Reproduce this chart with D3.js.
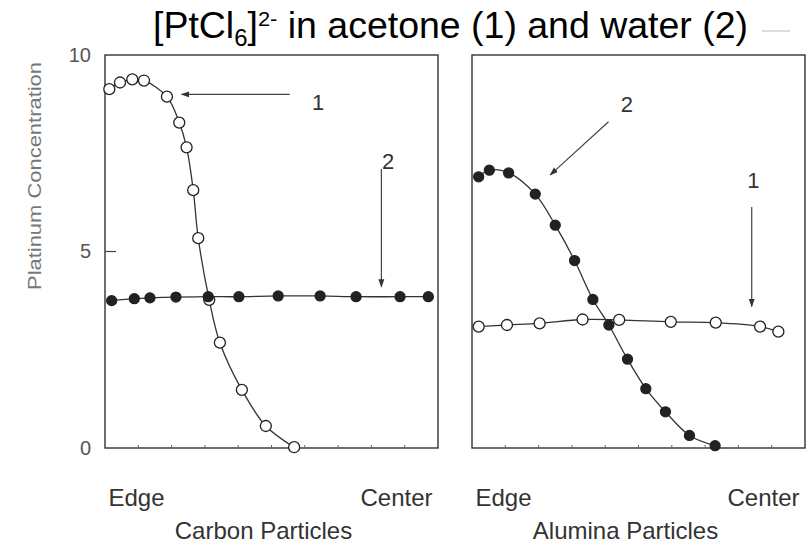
<!DOCTYPE html>
<html lang="en">
<head>
<meta charset="utf-8">
<title>PtCl6 profiles</title>
<script src="https://d3js.org/d3.v7.min.js"></script>
<style>
  body { margin: 0; background: #fff; }
  text { font-family: Arial, "Liberation Sans", sans-serif; }
</style>
</head>
<body>
<script>
// x is position across the particle: 0 = edge, 100 = center
var carbonAcetoneX = [1.3, 4.5, 8.2, 11.7, 18.6, 22.3, 24.5, 26.5, 28.0, 31.3, 34.5, 41.1, 48.3, 56.8];
var carbonAcetoneY = [9.13, 9.30, 9.38, 9.35, 8.94, 8.28, 7.65, 6.56, 5.34, 3.77, 2.68, 1.48, 0.56, 0.02];
var carbonWaterX = [2.0, 8.8, 13.5, 21.3, 31.0, 40.2, 52.0, 64.6, 75.4, 88.6, 97.1];
var carbonWaterY = [3.75, 3.80, 3.82, 3.84, 3.85, 3.85, 3.87, 3.87, 3.85, 3.85, 3.85];
var aluminaWaterX = [2.0, 5.2, 11.0, 19.0, 25.0, 30.8, 36.3, 41.1, 46.7, 52.2, 58.1, 65.3, 73.0];
var aluminaWaterY = [6.90, 7.07, 7.00, 6.46, 5.67, 4.77, 3.78, 3.13, 2.26, 1.51, 0.92, 0.32, 0.06];
var aluminaAcetoneX = [2.0, 10.5, 20.3, 33.2, 44.2, 59.7, 73.2, 86.5, 92.0];
var aluminaAcetoneY = [3.09, 3.13, 3.17, 3.27, 3.26, 3.21, 3.19, 3.09, 2.96];
var yTicks = [0, 5, 10];
var panelNames = ["Carbon Particles", "Alumina Particles"];

var width = 808, height = 548;
var svg = d3.select("body").append("svg")
    .attr("width", width)
    .attr("height", height);

var y = d3.scaleLinear().domain([0, 10]).range([448, 55]);
var xLeft = d3.scaleLinear().domain([0, 100]).range([105, 438]);
var xRight = d3.scaleLinear().domain([0, 100]).range([472, 805]);

function zip(xs, ys) {
    return xs.map(function(v, i) { return {x: v, y: ys[i]}; });
}

var panels = [
    {x: xLeft, name: panelNames[0], nameShift: -8, series: [
        {data: zip(carbonAcetoneX, carbonAcetoneY), open: true},
        {data: zip(carbonWaterX, carbonWaterY), open: false}]},
    {x: xRight, name: panelNames[1], nameShift: -13, series: [
        {data: zip(aluminaAcetoneX, aluminaAcetoneY), open: true},
        {data: zip(aluminaWaterX, aluminaWaterY), open: false}]}
];

// title with sub/superscript
var title = svg.append("text")
    .attr("x", 153)
    .attr("y", 38)
    .attr("textLength", 595)
    .attr("lengthAdjust", "spacingAndGlyphs")
    .style("font-size", "36px")
    .style("fill", "#000");
title.append("tspan").text("[PtCl");
title.append("tspan").attr("dy", 8).style("font-size", "23px").text("6");
title.append("tspan").attr("dy", -8).text("]");
title.append("tspan").attr("dy", -12).style("font-size", "21px").text("2-");
title.append("tspan").attr("dy", 12).text(" in acetone (1) and water (2)");

svg.append("line")
    .attr("x1", 762).attr("x2", 790).attr("y1", 31).attr("y2", 31)
    .attr("stroke", "#bbb").attr("stroke-width", 1);

panels.forEach(function(p) {
    var g = svg.append("g");
    var x = p.x;

    g.append("rect")
        .attr("x", x(0)).attr("y", y(10))
        .attr("width", x(100) - x(0)).attr("height", y(0) - y(10))
        .attr("fill", "none")
        .attr("stroke", "#333")
        .attr("stroke-width", 1.4);

    // small inner ticks on the bottom edge
    g.selectAll(".bt").data(d3.range(10, 100, 10)).enter().append("line")
        .attr("x1", function(d) { return x(d); })
        .attr("x2", function(d) { return x(d); })
        .attr("y1", y(0)).attr("y2", y(0) - 3)
        .attr("stroke", "#666").attr("stroke-width", 1);

    var line = d3.line()
        .x(function(d) { return x(d.x); })
        .y(function(d) { return y(d.y); })
        .curve(d3.curveCatmullRom);

    p.series.forEach(function(s) {
        g.append("path")
            .datum(s.data)
            .attr("d", line)
            .attr("fill", "none")
            .attr("stroke", "#333")
            .attr("stroke-width", 1.3);
    });
    p.series.forEach(function(s) {
        g.selectAll(null).data(s.data).enter().append("circle")
            .attr("cx", function(d) { return x(d.x); })
            .attr("cy", function(d) { return y(d.y); })
            .attr("r", s.open ? 5.5 : 5)
            .attr("fill", s.open ? "#fff" : "#222")
            .attr("stroke", "#222")
            .attr("stroke-width", 1.3);
    });

    // Edge / Center labels
    var xa = g.append("g")
        .attr("transform", "translate(0," + 506 + ")")
        .call(d3.axisBottom(x).tickValues([0, 100]).tickSize(0)
            .tickFormat(function(d) { return d === 0 ? "Edge" : "Center"; }));
    xa.select(".domain").remove();
    xa.selectAll("text")
        .attr("dy", 0)
        .attr("y", 0)
        .attr("x", function(d) { return d === 0 ? 3 : -6; })
        .attr("text-anchor", function(d) { return d === 0 ? "start" : "end"; })
        .style("font-family", "Arial, 'Liberation Sans', sans-serif")
        .style("font-size", "24px")
        .style("fill", "#333");

    g.append("text")
        .attr("x", (x(0) + x(100)) / 2 + p.nameShift)
        .attr("y", 539)
        .attr("text-anchor", "middle")
        .style("font-size", "24px")
        .style("fill", "#333")
        .text(p.name);
});

// left axis tick labels
var ya = svg.append("g")
    .attr("transform", "translate(" + xLeft(0) + ",0)")
    .call(d3.axisLeft(y).tickValues(yTicks).tickSize(0).tickPadding(14));
ya.select(".domain").remove();
ya.selectAll("text")
    .style("font-family", "Arial, 'Liberation Sans', sans-serif")
    .style("font-size", "20px")
    .style("fill", "#555");

svg.append("line")
    .attr("x1", xLeft(0)).attr("x2", xLeft(0) + 11)
    .attr("y1", y(5)).attr("y2", y(5))
    .attr("stroke", "#444").attr("stroke-width", 1.2);

svg.append("text")
    .attr("transform", "translate(41,176) rotate(-90)")
    .attr("text-anchor", "middle")
    .attr("textLength", 228)
    .attr("lengthAdjust", "spacingAndGlyphs")
    .style("font-size", "19px")
    .style("fill", "#777")
    .text("Platinum Concentration");

// annotation arrows
svg.append("defs").append("marker")
    .attr("id", "ah")
    .attr("viewBox", "0 0 10 10")
    .attr("refX", 9).attr("refY", 5)
    .attr("markerWidth", 7).attr("markerHeight", 7)
    .attr("orient", "auto")
    .append("path")
    .attr("d", "M0,1.5 L10,5 L0,8.5 Z")
    .attr("fill", "#333");

var arrows = [
    {x1: xLeft(55.5), y1: y(9.0), x2: xLeft(23), y2: y(9.0), label: "1", lx: xLeft(64), ly: y(8.8)},
    {x1: xLeft(83), y1: y(7.1), x2: xLeft(83), y2: y(4.1), label: "2", lx: xLeft(85), ly: y(7.3)},
    {x1: xRight(41), y1: y(8.3), x2: xRight(23.5), y2: y(6.95), label: "2", lx: xRight(46.5), ly: y(8.75)},
    {x1: xRight(84), y1: y(6.13), x2: xRight(84), y2: y(3.6), label: "1", lx: xRight(84.5), ly: y(6.8)}
];
arrows.forEach(function(a) {
    svg.append("line")
        .attr("x1", a.x1).attr("y1", a.y1)
        .attr("x2", a.x2).attr("y2", a.y2)
        .attr("stroke", "#444").attr("stroke-width", 1.2)
        .attr("marker-end", "url(#ah)");
    svg.append("text")
        .attr("x", a.lx).attr("y", a.ly)
        .attr("text-anchor", "middle")
        .attr("dy", "0.35em")
        .style("font-size", "22px")
        .style("fill", "#333")
        .text(a.label);
});
</script>
</body>
</html>
